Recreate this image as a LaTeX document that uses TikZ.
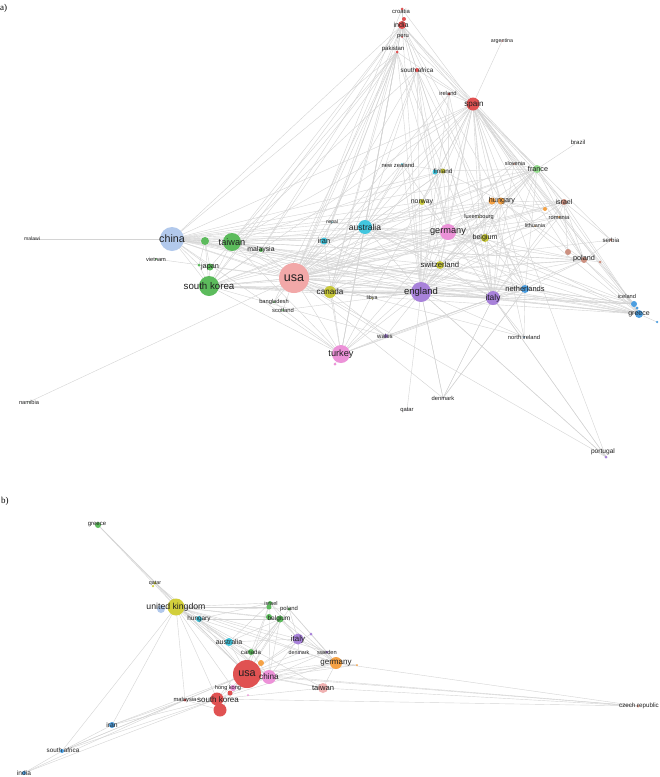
\documentclass[tikz,border=0pt]{standalone}
\usepackage{fontspec}
\setmainfont{Liberation Sans}
\newfontfamily\serifa{Liberation Serif}
\pgfdeclarelayer{bg}
\pgfsetlayers{bg,main}
\definecolor{cPinkA}{HTML}{F2A8A8}
\definecolor{cLBlue}{HTML}{B2C9EC}
\definecolor{cGreen}{HTML}{5CBB5C}
\definecolor{cCyan}{HTML}{42C6DE}
\definecolor{cOlive}{HTML}{C8C83A}
\definecolor{cPurple}{HTML}{A882DA}
\definecolor{cMagenta}{HTML}{EC92D8}
\definecolor{cOrange}{HTML}{F5A245}
\definecolor{cBrown}{HTML}{CC9080}
\definecolor{cLGreen}{HTML}{95DD8E}
\definecolor{cBlue}{HTML}{4C9EE0}
\definecolor{cRed}{HTML}{E05252}
\definecolor{cYellow}{HTML}{D2CF3C}
\definecolor{cLPink}{HTML}{F0B2B2}
\definecolor{cEdge}{HTML}{D4D4D4}
\tikzset{
  vdot/.style={circle,inner sep=0pt,draw=none},
  vlab/.style={inner sep=0pt,text=black!88},
  edge/.style={draw=cEdge,line width=0.4pt}
}
% name, x, y, diameter, colour, font size, text, label dx, label dy
\newcommand\vn[9]{%
  \node[vdot,fill=#5,minimum size=#4pt] (#1) at (#2,#3) {};
  \node[vlab,font=\fontsize{#6}{#6}\selectfont] (#1-t) at ({#2+#8},{#3+#9}) {#7};}
\newcommand\vd[5]{\node[vdot,fill=#5,minimum size=#4pt] (#1) at (#2,#3) {};}
\begin{document}
\begin{tikzpicture}[x=1pt,y=-1pt]
\useasboundingbox (0,0) rectangle (660,777);
\begin{pgfonlayer}{bg}
\fill[white] (0,0) rectangle (660,777);
\end{pgfonlayer}
\node[inner sep=0pt,anchor=west,font=\serifa\fontsize{9}{9}\selectfont] (pa) at (0,8) {a)};
\node[inner sep=0pt,anchor=west,font=\serifa\fontsize{9}{9}\selectfont] (pb) at (1,501) {b)};
% ---------- panel a ----------
\vd{ga}{205}{241}{8}{cGreen}
\vd{gb}{199}{265}{3}{cGreen}
\vd{hun2}{492}{201}{7}{cOrange}
\vd{fin2}{435}{172}{5}{cCyan}
\vd{o1}{545}{209}{4}{cOrange}
\vd{pol2}{568}{252}{6}{cBrown}
\vd{pol3}{600}{262}{3}{cBrown}
\vd{isl2}{637}{308}{3}{cBlue}
\vd{grc2}{657}{322}{2.5}{cBlue}
\vd{tur2}{335}{364}{3}{cMagenta}
\vd{ind2}{404}{19}{4}{cRed}
\vn{usa}{294}{278}{30}{cPinkA}{12.5}{usa}{0}{0}
\vn{chn}{172}{239}{24}{cLBlue}{10.7}{china}{0}{0}
\vn{kor}{209}{286}{20}{cGreen}{9.7}{south korea}{0}{0}
\vn{twn}{232}{242}{18}{cGreen}{9.2}{taiwan}{0}{0}
\vn{jpn}{210}{267}{7}{cGreen}{7.3}{japan}{0}{0}
\vn{mys}{261}{250}{4}{cGreen}{6.9}{malaysia}{0}{0}
\vn{vnm}{156}{259}{2}{cGreen}{5.7}{vietnam}{0}{0}
\vn{bgd}{274}{302}{2}{cGreen}{5.7}{bangladesh}{0}{0}
\vn{sco}{283}{310}{2}{cGreen}{5.8}{scotland}{0}{0}
\vn{irn}{324}{241}{7}{cCyan}{7.4}{iran}{0}{0}
\vn{npl}{332}{222}{1.5}{cCyan}{4.9}{nepal}{0}{0}
\vn{aus}{365}{227}{14}{cCyan}{8.5}{australia}{0}{0}
\vn{can}{330}{292}{12}{cOlive}{8.1}{canada}{0}{0}
\vn{lby}{372}{298}{1.5}{cOlive}{5.3}{libya}{0}{0}
\vn{eng}{421}{292}{20}{cPurple}{9.5}{england}{0}{0}
\vn{deu}{448}{232}{16}{cMagenta}{9.2}{germany}{0}{0}
\vn{che}{440}{265}{8}{cOlive}{7.7}{switzerland}{0}{0}
\vn{bel}{485}{238}{8}{cOlive}{7.1}{belgium}{0}{0}
\vn{nor}{422}{202}{6}{cOlive}{6.9}{norway}{0}{0}
\vn{lux}{479}{217}{1.5}{cOlive}{5.6}{luxembourg}{0}{0}
\vn{hun}{501}{201}{7}{cOrange}{7.2}{hungary}{1}{0}
\vn{fin}{443}{171}{5}{cOlive}{6.3}{finland}{0}{0}
\vn{nzl}{402}{164}{2}{cCyan}{5.8}{new zealand}{-4}{1}
\vn{svn}{514}{164}{2}{cBrown}{5.5}{slovenia}{1}{0}
\vn{fra}{537}{169}{8}{cLGreen}{7.2}{france}{1}{0}
\vn{bra}{578}{142}{1}{cLGreen}{6}{brazil}{0}{0}
\vn{isr}{564}{202}{6}{cBrown}{7}{israel}{0}{0}
\vn{rou}{559}{217}{2}{cOrange}{5.7}{romania}{0}{0}
\vn{ltu}{535}{226}{1.5}{cOrange}{5.4}{lithuania}{0}{0}
\vn{srb}{611}{240}{3}{cBrown}{6.1}{serbia}{0}{0}
\vn{pol}{584}{260}{6}{cBrown}{7.3}{poland}{0}{-1}
\vn{nld}{525}{289}{8}{cBlue}{7.5}{netherlands}{0}{0}
\vn{ita}{493}{298}{14}{cPurple}{8.4}{italy}{0}{0}
\vn{isl}{634}{304}{6}{cBlue}{5.7}{iceland}{-7}{-8}
\vn{grc}{639}{314}{8}{cBlue}{7}{greece}{0}{0}
\vn{nir}{524}{337}{1.5}{cBlue}{5.8}{north ireland}{0}{0}
\vn{wal}{386}{336}{4}{cPurple}{6.1}{wales}{-1}{0}
\vn{tur}{341}{354}{18}{cMagenta}{9.2}{turkey}{0}{0}
\vn{dnk}{443}{398}{1}{cPurple}{5.8}{denmark}{0}{0}
\vn{qat}{407}{410}{1}{cPurple}{5.8}{qatar}{0}{0}
\vn{nam}{29}{402}{1}{cGreen}{5.7}{namibia}{0}{0}
\vn{prt}{606}{457}{3}{cPurple}{6.6}{portugal}{-3}{-5}
\vn{mwi}{32}{239}{1}{cLBlue}{5.1}{malawi}{0}{0}
\vn{esp}{473}{104}{13}{cRed}{8.1}{spain}{1}{0}
\vn{irl}{449}{94}{3}{cRed}{5.8}{ireland}{-1}{-1}
\vn{zaf}{417}{70}{4}{cRed}{6.3}{south africa}{0}{0}
\vn{pak}{397}{52}{3}{cRed}{6}{pakistan}{-4}{-3}
\vn{per}{402}{37}{2}{cRed}{5.8}{peru}{1}{0}
\vn{ind}{402}{25}{8}{cRed}{7.1}{india}{-1}{0}
\vn{hrv}{402}{9}{3}{cRed}{5.9}{croatia}{-1}{2}
\vn{arg}{502}{41}{1.5}{cRed}{5.3}{argentina}{0}{0}
% ---------- panel b ----------
\vd{blb}{161}{609}{8}{cLBlue}
\vd{bqat2}{153}{586}{2.5}{cYellow}
\vd{bisr2}{269}{607}{5}{cGreen}
\vd{bbel2}{269}{617}{6}{cGreen}
\vd{bita2}{311}{634}{3}{cPurple}
\vd{bdeu2}{357}{665}{2}{cOrange}
\vd{bo1}{261}{663}{6}{cOrange}
\vd{bhkg2}{230}{693}{5}{cRed}
\vd{bhkg3}{248}{695}{2}{cMagenta}
\vd{bkor2}{220}{710}{13}{cRed}
\vn{bgrc}{98}{525}{6}{cGreen}{6}{greece}{-1}{0}
\vn{bqat}{155}{583}{3}{cYellow}{5.3}{qatar}{0}{0}
\vn{buk}{176}{607}{17}{cYellow}{8.7}{united kingdom}{0}{0}
\vn{bhun}{199}{619}{6}{cCyan}{6.4}{hungary}{0}{0}
\vn{bisr}{270}{603}{4}{cGreen}{5.6}{israel}{1}{0}
\vn{bpol}{289}{609}{3}{cGreen}{5.9}{poland}{0}{0}
\vn{bbel}{280}{619}{7}{cGreen}{6.5}{belgium}{-1}{0}
\vn{baus}{229}{642}{8}{cCyan}{7}{australia}{0}{0}
\vn{bita}{298}{639}{11}{cPurple}{7.9}{italy}{0}{0}
\vn{bcan}{251}{652}{6}{cGreen}{6.1}{canada}{0}{0}
\vn{bdnk}{299}{653}{1.5}{cPurple}{5.3}{denmark}{0}{0}
\vn{bswe}{327}{652}{3}{cPurple}{5.7}{sweden}{0}{0}
\vn{bdeu}{336}{663}{12}{cOrange}{8}{germany}{0}{0}
\vn{busa}{247}{674}{28}{cRed}{10.8}{usa}{0}{0}
\vn{bchn}{269}{677}{14}{cMagenta}{8.2}{china}{0}{0}
\vn{bhkg}{233}{688}{6}{cMagenta}{5.6}{hong kong}{-5}{0}
\vn{btwn}{323}{688}{10}{cLPink}{7.6}{taiwan}{0}{0}
\vn{bkor}{217}{699}{13}{cRed}{8}{south korea}{1}{1}
\vn{bmys}{185}{700}{3}{cRed}{5.8}{malaysia}{0}{0}
\vn{birn}{112}{725}{6}{cBlue}{6.8}{iran}{0}{0}
\vn{bzaf}{62}{751}{4}{cBlue}{6.3}{south africa}{1}{-1}
\vn{bind}{24}{773}{4}{cBlue}{6.6}{india}{0}{0}
\vn{bcze}{638}{706}{3}{cBrown}{6.2}{czech republic}{1}{0}
% ---------- edges ----------
\begin{pgfonlayer}{bg}
\foreach \a/\b in {usa/chn,usa/kor,usa/twn,usa/ga,usa/jpn,usa/mys,usa/vnm,usa/bgd,usa/sco,usa/irn,usa/npl,usa/aus,usa/can,usa/lby,usa/eng,usa/deu,usa/che,usa/bel,usa/nor,usa/lux,usa/hun,usa/fin,usa/nzl,usa/svn,usa/fra,usa/isr,usa/rou,usa/ltu,usa/pol,usa/nld,usa/ita,usa/isl,usa/grc,usa/nir,usa/wal,usa/tur,usa/dnk,usa/nam,usa/esp,usa/irl,usa/zaf,usa/pak,usa/ind,usa/hrv,usa/prt,usa/o1,usa/srb,
chn/kor,chn/twn,chn/ga,chn/jpn,chn/gb,chn/mys,chn/mwi,chn/aus,chn/eng,chn/deu,chn/ita,chn/nld,chn/esp,chn/ind,chn/pak,chn/can,chn/che,chn/hun,chn/fra,chn/pol,chn/grc,chn/isl,chn/tur,chn/fin,chn/bel,chn/irn,chn/nor,chn/isr,
kor/twn,kor/jpn,kor/ga,kor/gb,kor/mys,kor/aus,kor/eng,kor/deu,kor/ita,kor/nld,kor/can,kor/tur,kor/esp,kor/ind,kor/pak,kor/grc,kor/isl,kor/che,kor/wal,kor/hun,kor/pol,kor/fra,
twn/ga,twn/jpn,twn/mys,twn/aus,twn/eng,twn/deu,twn/ita,twn/esp,twn/ind,twn/pak,twn/tur,twn/can,twn/nld,twn/grc,twn/zaf,twn/pol,twn/fin,jpn/ga,jpn/gb,ga/gb,
esp/ind,esp/pak,esp/zaf,esp/irl,esp/arg,esp/per,esp/hrv,esp/deu,esp/eng,esp/ita,esp/fra,esp/aus,esp/nld,esp/bel,esp/che,esp/hun,esp/pol,esp/isr,esp/grc,esp/isl,esp/tur,esp/can,esp/prt,esp/rou,esp/svn,esp/nor,esp/fin,esp/o1,esp/srb,esp/ltu,esp/nir,esp/lux,esp/pol2,
ind/pak,ind/hrv,ind/per,ind/zaf,ind/aus,ind/eng,ind/deu,ind/ita,ind/irn,ind/mys,ind/tur,ind/can,ind/nld,ind/hun,ind/ind2,ind/fra,ind/isl,
pak/mys,pak/aus,pak/eng,pak/deu,pak/ita,pak/tur,pak/irn,pak/bgd,pak/can,pak/npl,
zaf/eng,zaf/aus,zaf/deu,zaf/ita,zaf/nld,zaf/che,zaf/can,irl/eng,irl/deu,irl/ita,irl/aus,
eng/deu,eng/ita,eng/nld,eng/aus,eng/can,eng/che,eng/bel,eng/nor,eng/fin,eng/fra,eng/hun,eng/isr,eng/pol,eng/grc,eng/isl,eng/tur,eng/wal,eng/nir,eng/qat,eng/dnk,eng/prt,eng/sco,eng/nzl,eng/lux,eng/rou,eng/lby,eng/irn,
deu/ita,deu/nld,deu/aus,deu/che,deu/bel,deu/nor,deu/fin,deu/fra,deu/hun,deu/isr,deu/pol,deu/grc,deu/isl,deu/tur,deu/can,deu/lux,deu/svn,deu/nzl,deu/rou,deu/irn,
ita/nld,ita/aus,ita/che,ita/bel,ita/fra,ita/hun,ita/isr,ita/pol,ita/grc,ita/isl,ita/tur,ita/can,ita/dnk,ita/prt,ita/nir,ita/rou,ita/wal,ita/svn,
nld/aus,nld/bel,nld/fra,nld/grc,nld/isl,nld/pol,nld/tur,nld/dnk,nld/nir,nld/che,nld/can,
aus/can,aus/che,aus/nzl,aus/fin,aus/fra,aus/hun,aus/tur,aus/irn,aus/bel,aus/nor,aus/grc,aus/isl,aus/pol,aus/npl,
tur/can,tur/wal,tur/che,tur/tur2,tur/irn,tur/bgd,
fra/bra,fra/svn,fra/hun,fra/bel,fra/pol,fra/isr,fra/grc,fra/fin,fra/che,
isr/pol,isr/rou,isr/srb,isr/grc,isr/hun,isr/pol2,pol/srb,pol/pol2,pol/pol3,pol/grc,pol/isl,pol/hun,pol/rou,
grc/isl,grc/isl2,grc/grc2,isl/isl2,grc/hun,grc/che,grc/bel,
hun/hun2,hun/rou,hun/bel,hun/o1,hun/che,fin/fin2,fin/nor,fin/nzl,fin/hun,
che/bel,che/can,bel/lux,bel/ltu,wal/ita,can/wal,dnk/eng,dnk/ita,dnk/nld,prt/eng,prt/ita,
buk/bgrc,buk/bqat,buk/bhun,buk/bisr,buk/bbel,buk/bbel2,buk/bpol,buk/bita,buk/bdeu,buk/busa,buk/bchn,buk/baus,buk/bcan,buk/bzaf,buk/birn,buk/bmys,buk/btwn,buk/bkor,buk/bhkg,buk/bswe,buk/blb,buk/bisr2,
bgrc/bqat,bgrc/busa,bqat/busa,bqat/bchn,bqat/bqat2,
busa/bhun,busa/bisr,busa/bbel,busa/bpol,busa/baus,busa/bita,busa/bcan,busa/bdnk,busa/bswe,busa/bdeu,busa/bo1,busa/bchn,busa/bhkg,busa/btwn,busa/bkor,busa/bkor2,busa/bmys,busa/birn,busa/bzaf,busa/bcze,busa/bita2,busa/bdeu2,busa/bhkg2,
bchn/bdeu,bchn/bita,bchn/btwn,bchn/bkor,bchn/bhkg,bchn/baus,bchn/bcan,bchn/bcze,bchn/bbel,bchn/bisr,bchn/bswe,bchn/bdeu2,
bkor/bmys,bkor/birn,bkor/bzaf,bkor/bind,bkor/bcze,bkor/bdeu,bkor/btwn,bkor/bkor2,bkor2/bmys,
birn/bmys,birn/bzaf,bzaf/bind,bzaf/bmys,bind/bmys,bcze/btwn,bcze/bdeu,
bdeu/bita,bdeu/bswe,bdeu/btwn,bdeu/bbel,bdeu/bpol,bdeu/bhun,bdeu/bdeu2,bdeu/bisr,
bita/bbel,bita/bisr,bita/bpol,bita/bswe,bita/bdnk,bita/baus,
baus/bhun,baus/bcan,baus/bbel,baus/bisr,bhun/bisr,bhun/bbel,bbel/bcan,bisr/bcan,bbel/bkor,bpol/bswe}
  \draw[edge] (\a.center) -- (\b.center);
\end{pgfonlayer}
\end{tikzpicture}
\end{document}
